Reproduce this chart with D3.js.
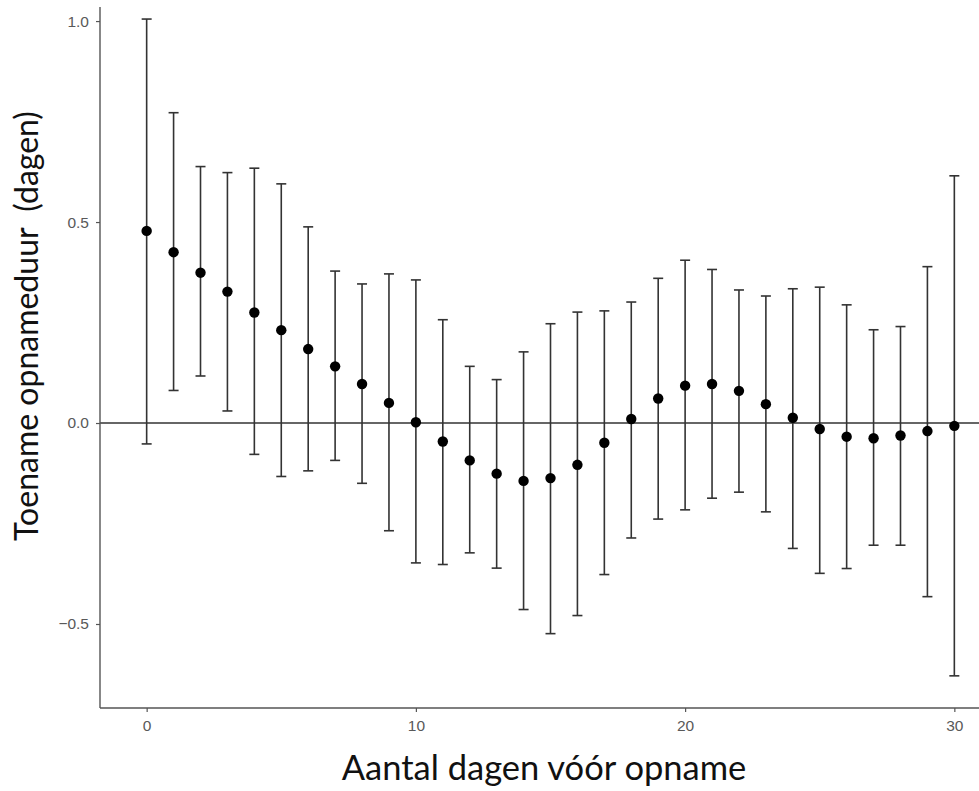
<!DOCTYPE html>
<html><head><meta charset="utf-8">
<script src="https://cdn.jsdelivr.net/npm/d3@7"></script>
<style>html,body{margin:0;padding:0;background:#fff;}svg{display:block;}</style>
</head><body>
<svg id="chart" width="979" height="791"></svg>
<script>
const days = [0,1,2,3,4,5,6,7,8,9,10,11,12,13,14,15,16,17,18,19,20,21,22,23,24,25,26,27,28,29,30];
const estimate = [0.478,0.425,0.374,0.327,0.275,0.231,0.184,0.141,0.097,0.050,0.002,-0.046,-0.093,-0.126,-0.144,-0.137,-0.104,-0.049,0.010,0.061,0.093,0.097,0.080,0.047,0.013,-0.015,-0.034,-0.038,-0.031,-0.020,-0.007];
const upper = [1.005,0.772,0.638,0.623,0.634,0.595,0.488,0.378,0.346,0.371,0.356,0.257,0.141,0.108,0.177,0.247,0.276,0.279,0.301,0.360,0.405,0.382,0.331,0.316,0.334,0.338,0.294,0.232,0.240,0.389,0.615];
const lower = [-0.052,0.081,0.117,0.030,-0.078,-0.133,-0.119,-0.093,-0.150,-0.268,-0.348,-0.352,-0.323,-0.361,-0.464,-0.524,-0.479,-0.377,-0.286,-0.239,-0.216,-0.187,-0.172,-0.221,-0.312,-0.374,-0.362,-0.304,-0.304,-0.432,-0.629];
const xTicks = [0,10,20,30];
const yTicks = [-0.5,0.0,0.5,1.0];
const xTitle = "Aantal dagen vóór opname";
const yTitle = "Toename opnameduur\u00a0 (dagen)";

const svg = d3.select("#chart");
const mLeft = 100, mRight = 1001, mTop = 7, mBottom = 708;
const x = d3.scaleLinear().domain([-1.733, 31.733]).range([mLeft, mRight]);
const y = d3.scaleLinear().domain([-0.709, 1.035]).range([mBottom, mTop]);

const data = days.map((d,i)=>({d, est:estimate[i], lo:lower[i], hi:upper[i]}));

// zero reference line
svg.append("line").attr("x1", mLeft).attr("x2", 979)
  .attr("y1", y(0)).attr("y2", y(0))
  .attr("stroke", "#333").attr("stroke-width", 1.6);

// error bars
const eb = svg.append("g").attr("stroke", "#333").attr("stroke-width", 1.6);
data.forEach(p => {
  eb.append("line").attr("x1", x(p.d)).attr("x2", x(p.d)).attr("y1", y(p.lo)).attr("y2", y(p.hi));
  eb.append("line").attr("x1", x(p.d)-5).attr("x2", x(p.d)+5).attr("y1", y(p.lo)).attr("y2", y(p.lo));
  eb.append("line").attr("x1", x(p.d)-5).attr("x2", x(p.d)+5).attr("y1", y(p.hi)).attr("y2", y(p.hi));
});

// points
svg.append("g").selectAll("circle").data(data).join("circle")
  .attr("cx", p => x(p.d)).attr("cy", p => y(p.est)).attr("r", 5.2).attr("fill", "#000");

// axes
const xAxis = svg.append("g").attr("transform", `translate(0,${mBottom})`)
  .call(d3.axisBottom(x).tickValues(xTicks).tickFormat(d3.format("d")).tickSize(4).tickSizeOuter(0).tickPadding(8));
const yAxis = svg.append("g").attr("transform", `translate(${mLeft},0)`)
  .call(d3.axisLeft(y).tickValues(yTicks).tickFormat(d3.format(".1f")).tickSize(4).tickSizeOuter(0).tickPadding(7));
[xAxis, yAxis].forEach(a => {
  a.select(".domain").attr("stroke", "#555").attr("stroke-width", 1.4);
  a.selectAll(".tick line").attr("stroke", "#555").attr("stroke-width", 1.2);
  a.selectAll(".tick text").attr("fill", "#595959")
    .style("font-family", "'Liberation Sans', Arial, sans-serif").style("font-size", "15.5px");
});
xAxis.select(".domain").attr("d", `M${mLeft},0H979`);
yAxis.select(".domain").attr("d", `M0,${mTop}V${mBottom}`);

// titles
svg.append("text").attr("x", 544).attr("y", 780).attr("text-anchor", "middle")
  .style("font-family", "Lato, sans-serif").style("font-size", "34.5px").attr("fill", "#111")
  .text(xTitle);
svg.append("text").attr("transform", "translate(38,326) rotate(-90)").attr("text-anchor", "middle")
  .style("font-family", "Lato, sans-serif").style("font-size", "32px").attr("fill", "#111")
  .text(yTitle);
</script>
</body></html>
